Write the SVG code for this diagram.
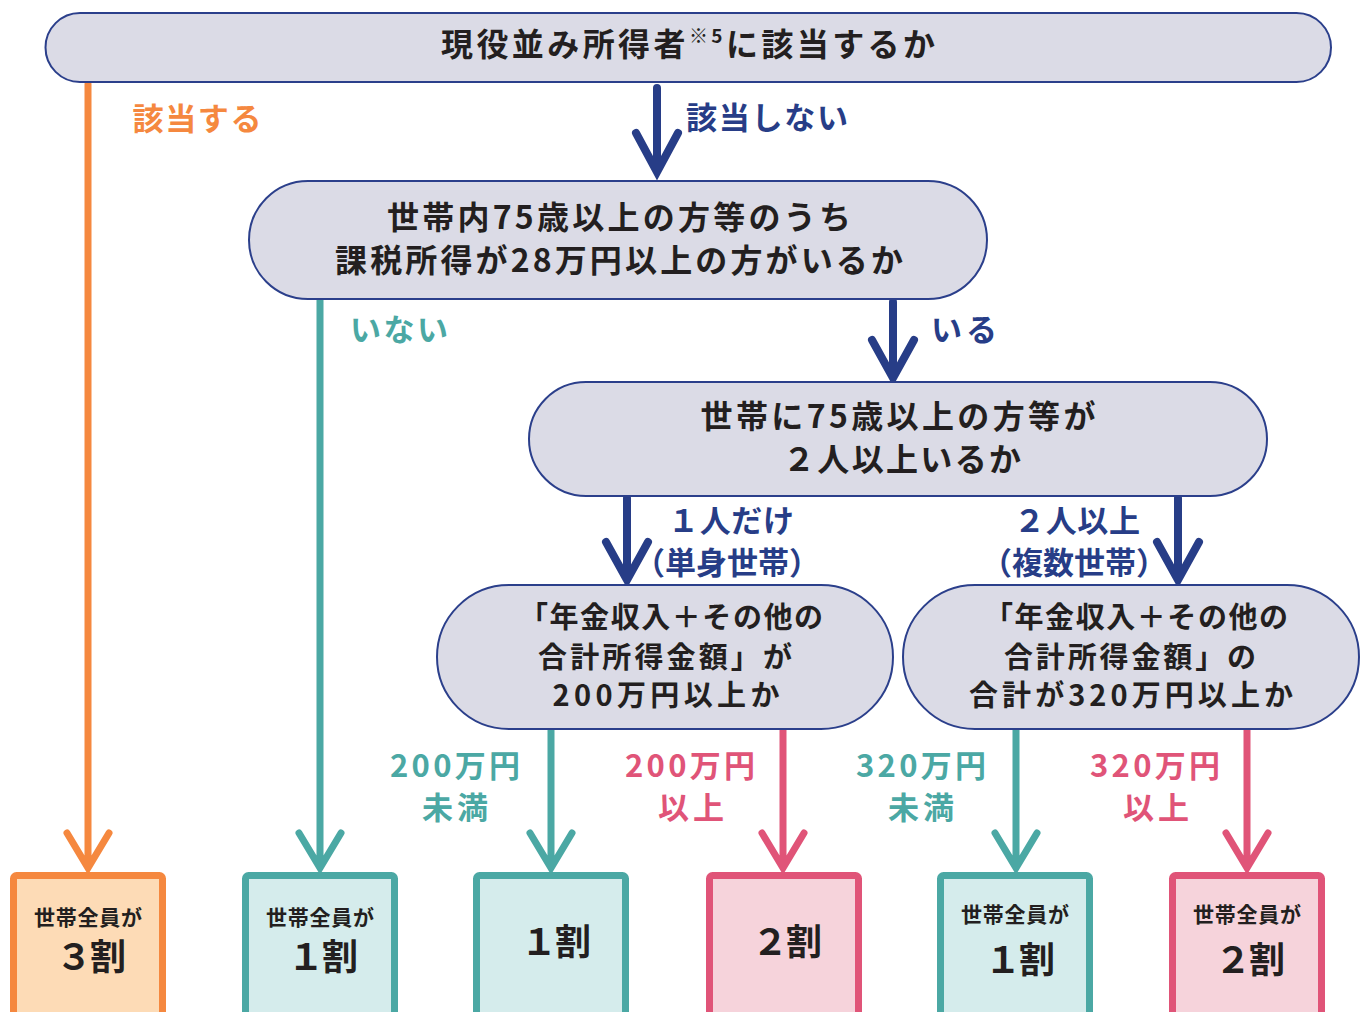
<svg xmlns="http://www.w3.org/2000/svg" width="1365" height="1012" viewBox="0 0 1365 1012">
<style>
text{font-family:"Noto Sans CJK JP","Noto Sans",sans-serif;font-weight:700;dominant-baseline:central;text-anchor:middle}
.q{fill:#dbdbe6;stroke:#2b3f8b;stroke-width:2}
.t{fill:#231f20;font-size:32px}
.tn{fill:#231f20;font-size:29px}
.navy{stroke:#273d87;stroke-width:8;fill:none;stroke-linecap:round;stroke-linejoin:miter}
.or{stroke:#f5883f;stroke-width:7;fill:none;stroke-linecap:round;stroke-linejoin:miter}
.tl{stroke:#4ba8a4;stroke-width:7;fill:none;stroke-linecap:round;stroke-linejoin:miter}
.pk{stroke:#e05478;stroke-width:7;fill:none;stroke-linecap:round;stroke-linejoin:miter}
.lnavy{fill:#273d87;font-size:31px}
.lor{fill:#f5883f;font-size:31px}
.ltl{fill:#4ba8a4;font-size:31px}
.lpk{fill:#e05478;font-size:31px}
.bor{fill:#fddbb6;stroke:#f5883f;stroke-width:7}
.btl{fill:#d5ecec;stroke:#4ba8a4;stroke-width:7}
.bpk{fill:#f6d3db;stroke:#e05478;stroke-width:7}
.s{fill:#231f20;font-size:21px}
.b{fill:#231f20;font-size:36px}
</style>

<g id="connectors">
  <path class="or" d="M88 84 V866 M67 833 L88 868 L109 833"/>
  <path class="navy" d="M657 88 V170 M636 133 L657 172 L678 133"/>
  <path class="tl" d="M320 300 V866 M299 833 L320 868 L341 833"/>
  <path class="navy" d="M893 302 V376 M872 340 L893 378 L914 340"/>
  <path class="navy" d="M627 498 V578 M606 542 L627 580 L648 542"/>
  <path class="navy" d="M1178 498 V578 M1157 542 L1178 580 L1199 542"/>
  <path class="tl" d="M551 730 V866 M530 833 L551 868 L572 833"/>
  <path class="pk" d="M783 730 V866 M762 833 L783 868 L804 833"/>
  <path class="tl" d="M1016 730 V866 M995 833 L1016 868 L1037 833"/>
  <path class="pk" d="M1247 730 V866 M1226 833 L1247 868 L1268 833"/>
  <text class="lor" x="197" y="116" textLength="129" lengthAdjust="spacing">該当する</text>
  <text class="lnavy" x="767" y="115" textLength="162" lengthAdjust="spacing">該当しない</text>
  <text class="ltl" x="399" y="327" textLength="98" lengthAdjust="spacing">いない</text>
  <text class="lnavy" x="964" y="327" textLength="66" lengthAdjust="spacing">いる</text>
  <text class="lnavy" x="731" y="518" textLength="126" lengthAdjust="spacing">１人だけ</text>
  <text class="lnavy" x="727" y="560" font-size="32">（単身世帯）</text>
  <text class="lnavy" x="1077" y="518" textLength="126" lengthAdjust="spacing">２人以上</text>
  <text class="lnavy" x="1074" y="560" font-size="32">（複数世帯）</text>
  <text class="ltl" x="455" y="763" textLength="130" lengthAdjust="spacing">200万円</text>
  <text class="ltl" x="455" y="805" textLength="66" lengthAdjust="spacing">未満</text>
  <text class="lpk" x="690" y="763" textLength="130" lengthAdjust="spacing">200万円</text>
  <text class="lpk" x="691" y="805" textLength="66" lengthAdjust="spacing">以上</text>
  <text class="ltl" x="921" y="763" textLength="130" lengthAdjust="spacing">320万円</text>
  <text class="ltl" x="921" y="805" textLength="66" lengthAdjust="spacing">未満</text>
  <text class="lpk" x="1155" y="763" textLength="130" lengthAdjust="spacing">320万円</text>
  <text class="lpk" x="1156" y="805" textLength="66" lengthAdjust="spacing">以上</text>
</g>

<g id="q1">
  <rect class="q" x="45.5" y="13" width="1285.5" height="69" rx="34.5"/>
  <text class="t" x="688" y="42" textLength="494" lengthAdjust="spacing">現役並み所得者<tspan font-size="19" dy="-8">※5</tspan><tspan dy="8">に該当するか</tspan></text>
</g>

<g id="q2">
  <rect class="q" x="249" y="181" width="738" height="118" rx="59"/>
  <text class="t" x="619" y="215" textLength="464" lengthAdjust="spacing">世帯内75歳以上の方等のうち</text>
  <text class="t" x="619" y="258" textLength="568" lengthAdjust="spacing">課税所得が28万円以上の方がいるか</text>
</g>

<g id="q3">
  <rect class="q" x="529" y="382" width="738" height="114" rx="57"/>
  <text class="t" x="898" y="414" textLength="395" lengthAdjust="spacing">世帯に75歳以上の方等が</text>
  <text class="t" x="902" y="457" textLength="238" lengthAdjust="spacing">２人以上いるか</text>
</g>

<g id="q4">
  <rect class="q" x="437" y="585" width="456" height="144" rx="72"/>
  <text class="tn" x="671" y="615" textLength="304" lengthAdjust="spacing">「年金収入＋その他の</text>
  <text class="tn" x="665" y="655" textLength="254" lengthAdjust="spacing">合計所得金額」が</text>
  <text class="tn" x="666" y="693" textLength="227" lengthAdjust="spacing">200万円以上か</text>
</g>

<g id="q5">
  <rect class="q" x="903" y="585" width="456" height="144" rx="72"/>
  <text class="tn" x="1136" y="615" textLength="304" lengthAdjust="spacing">「年金収入＋その他の</text>
  <text class="tn" x="1130" y="655" textLength="252" lengthAdjust="spacing">合計所得金額」の</text>
  <text class="tn" x="1131" y="693" textLength="324" lengthAdjust="spacing">合計が320万円以上か</text>
</g>

<g id="r1">
  <rect class="bor" x="13.5" y="875.5" width="149" height="150" rx="3"/>
  <text class="s" x="88" y="916" textLength="108" lengthAdjust="spacing">世帯全員が</text>
  <text class="b" x="91" y="954" textLength="70" lengthAdjust="spacing">３割</text>
</g>
<g id="r2">
  <rect class="btl" x="245.5" y="875.5" width="149" height="150" rx="3"/>
  <text class="s" x="320" y="916" textLength="108" lengthAdjust="spacing">世帯全員が</text>
  <text class="b" x="323" y="954" textLength="70" lengthAdjust="spacing">１割</text>
</g>
<g id="r3">
  <rect class="btl" x="476.5" y="875.5" width="149" height="150" rx="3"/>
  <text class="b" x="556" y="939" textLength="70" lengthAdjust="spacing">１割</text>
</g>
<g id="r4">
  <rect class="bpk" x="709.5" y="875.5" width="149" height="150" rx="3"/>
  <text class="b" x="787" y="939" textLength="70" lengthAdjust="spacing">２割</text>
</g>
<g id="r5">
  <rect class="btl" x="940.5" y="875.5" width="149" height="150" rx="3"/>
  <text class="s" x="1015" y="913" textLength="108" lengthAdjust="spacing">世帯全員が</text>
  <text class="b" x="1020" y="957" textLength="70" lengthAdjust="spacing">１割</text>
</g>
<g id="r6">
  <rect class="bpk" x="1172.5" y="875.5" width="149" height="150" rx="3"/>
  <text class="s" x="1247" y="913" textLength="108" lengthAdjust="spacing">世帯全員が</text>
  <text class="b" x="1250" y="957" textLength="70" lengthAdjust="spacing">２割</text>
</g>
</svg>
